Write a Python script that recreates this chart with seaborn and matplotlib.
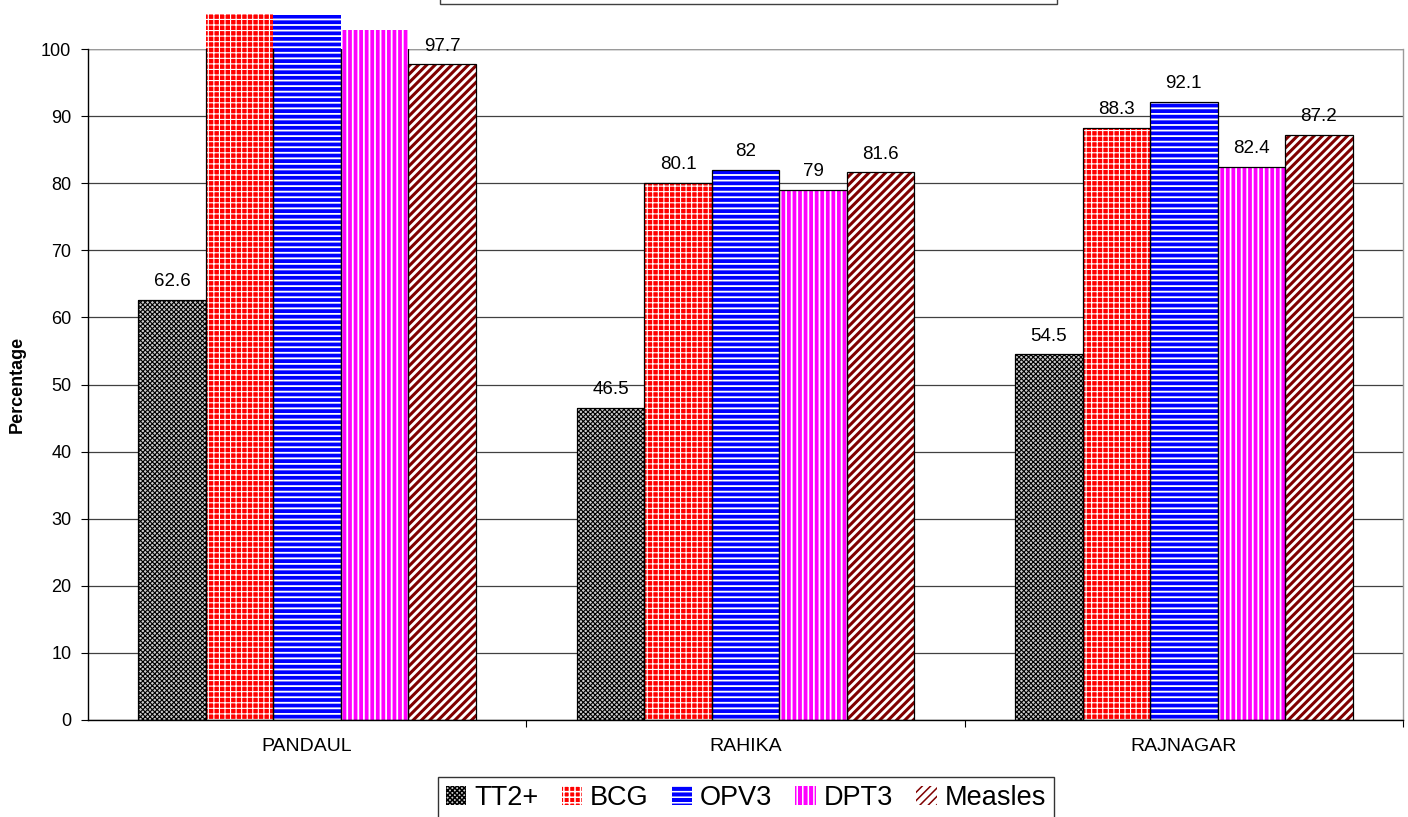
import matplotlib
matplotlib.use("Agg")
import matplotlib.pyplot as plt
import seaborn as sns
import pandas as pd
from matplotlib.patches import Rectangle

# Immunisation coverage by block
blocks = ["PANDAUL", "RAHIKA", "RAJNAGAR"]
vaccines = ["TT2+", "BCG", "OPV3", "DPT3", "Measles"]
tt2 = [62.6, 46.5, 54.5]
bcg = [105.2, 80.1, 88.3]
opv3 = [105.0, 82.0, 92.1]
dpt3 = [102.9, 79.0, 82.4]
measles = [97.7, 81.6, 87.2]

face_colors = ["#cccccc", "#ff0000", "#0000ff", "#ff00ff", "#ffffff"]
hatch_colors = ["#000000", "#ffffff", "#ffffff", "#ffffff", "#800000"]
hatches = ["xxxxxxx", "+++", "---", "|||", "////"]
hatch_widths = [0.8, 0.8, 1.3, 1.3, 2.2]

rows = []
for vac, vals in zip(vaccines, [tt2, bcg, opv3, dpt3, measles]):
    for blk, val in zip(blocks, vals):
        rows.append({"Block": blk, "Vaccine": vac, "Coverage": val})
df = pd.DataFrame(rows)

sns.set_style("white")
plt.rcParams["font.family"] = ["Liberation Sans", "DejaVu Sans"]
plt.rcParams["hatch.linewidth"] = 1.1
plt.rcParams["text.color"] = "black"
plt.rcParams["axes.labelcolor"] = "black"
plt.rcParams["xtick.color"] = "black"
plt.rcParams["ytick.color"] = "black"

fig = plt.figure(figsize=(14.08, 8.17), dpi=100)
ax = fig.add_axes([88 / 1408, 97 / 817, 1315 / 1408, 671 / 817])

sns.barplot(data=df, x="Block", y="Coverage", hue="Vaccine",
            order=blocks, hue_order=vaccines, palette=face_colors,
            saturation=1, width=0.77, ax=ax, legend=False)

handles = []
for i, cont in enumerate(ax.containers):
    for p in cont.patches:
        p.set_hatch(hatches[i])
        p.set_edgecolor(hatch_colors[i])
        p.set_linewidth(0)
        if hasattr(p, "set_hatch_linewidth"):
            p.set_hatch_linewidth(hatch_widths[i])
        p.set_clip_on(False)
        # black outline, kept inside the plot area
        ax.add_patch(Rectangle(p.get_xy(), p.get_width(), p.get_height(),
                               fill=False, edgecolor="black", lw=0.9,
                               clip_on=True, zorder=2))
    handles.append(cont.patches[0])
    labels = [f"{p.get_height():g}" if p.get_height() <= 100 else ""
              for p in cont.patches]
    ax.bar_label(cont, labels=labels, padding=7, fontsize=13.5,
                 color="black")

ax.set_xlim(-0.5, 2.5)
ax.set_ylim(0, 100)
ax.set_yticks(range(0, 101, 10))
ax.set_axisbelow(True)
ax.grid(axis="y", color="#404040", lw=0.9)
ax.grid(axis="x", visible=False)
ax.axhline(100, color="#9a9a9a", lw=1, zorder=0.6)

ax.spines["top"].set_visible(False)
ax.spines["right"].set_color("#9a9a9a")
ax.spines["right"].set_linewidth(1)
ax.spines["left"].set_color("black")
ax.spines["bottom"].set_color("black")
ax.spines["left"].set_linewidth(1)
ax.spines["bottom"].set_linewidth(1)

ax.tick_params(axis="y", direction="out", length=5, width=0.8,
               color="black", labelcolor="black", labelsize=13, pad=7,
               left=True)
ax.tick_params(axis="x", which="major", length=0, labelsize=14, pad=13,
               labelcolor="black")
ax.set_xticks([0.5, 1.5, 2.5], minor=True)
ax.tick_params(axis="x", which="minor", direction="out", length=5,
               width=0.8, color="black", bottom=True)

ax.set_xlabel("")
ax.set_ylabel("Percentage", fontsize=13, fontweight="bold", color="black")
ax.yaxis.set_label_coords(-0.047, 0.5)

leg = fig.legend(handles, vaccines, loc="upper center",
                 bbox_to_anchor=(746 / 1408, 40 / 817), ncol=5, fontsize=19.5,
                 frameon=True, fancybox=False, edgecolor="black",
                 handlelength=0.75, handleheight=0.7, handletextpad=0.3,
                 columnspacing=0.85, borderpad=0.3, borderaxespad=0,
                 labelcolor="black")
leg.get_frame().set_linewidth(1)

# header box across the top edge
fig.patches.append(Rectangle((440 / 1408, 813 / 817), 617 / 1408, 0.05,
                             transform=fig.transFigure, facecolor="white",
                             edgecolor="#404040", lw=1))

fig.savefig("out.png", dpi=100)
